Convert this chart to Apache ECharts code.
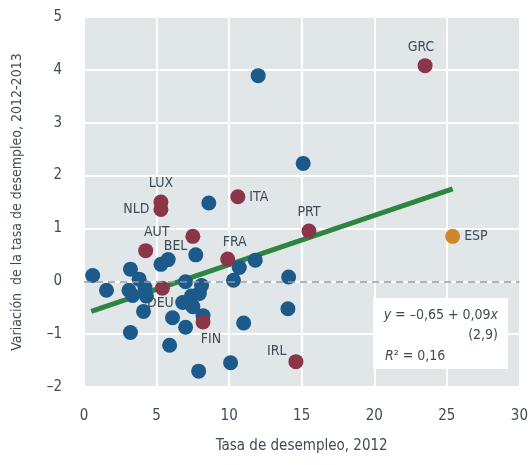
<!DOCTYPE html>
<html lang="es">
<head>
  <meta charset="UTF-8">
  <title>Tasa de desempleo</title>
  <script src="https://cdn.jsdelivr.net/npm/echarts@6/dist/echarts.min.js"></script>
  <style>
    html, body { margin: 0; padding: 0; background: #fff; }
    #chart { width: 531px; height: 465px; }
  </style>
</head>
<body>
  <div id="chart"></div>
  <script>
    // paises sin etiqueta (azul)
    var blueX = [0.6, 1.55, 3.2, 3.8, 3.1, 3.35, 4.2, 4.3, 4.1, 3.2, 5.3, 5.8, 7.7, 8.6, 7.0, 8.1, 7.95, 7.4, 6.8, 7.5, 8.2, 6.1, 7.0, 5.9, 7.9, 10.1, 11.0, 10.3, 10.7, 11.8, 14.1, 14.05, 12.0, 15.1];
    var blueY = [0.11, -0.17, 0.23, 0.04, -0.17, -0.27, -0.12, -0.28, -0.57, -0.97, 0.32, 0.41, 0.5, 1.48, -0.01, -0.08, -0.23, -0.28, -0.4, -0.48, -0.65, -0.69, -0.87, -1.21, -1.7, -1.54, -0.79, 0.02, 0.26, 0.4, 0.08, -0.52, 3.89, 2.23];

    // paises con etiqueta (rojo)
    var redNames = ['GRC', 'ITA', 'PRT', 'LUX', 'NLD', 'AUT', 'BEL', 'FRA', 'DEU', 'FIN', 'IRL'];
    var redX = [23.5, 10.6, 15.5, 5.3, 5.3, 4.25, 7.5, 9.9, 5.4, 8.2, 14.6];
    var redY = [4.08, 1.6, 0.95, 1.5, 1.36, 0.58, 0.85, 0.42, -0.13, -0.77, -1.52];

    var espX = 25.4, espY = 0.85;

    // recta de regresion (extremos)
    var fitX = [0.5, 25.4];
    var fitY = [-0.57, 1.75];

    var xTicks = [0, 30, 5];
    var yTicks = [-2, 5, 1];

    var font = '"DejaVu Sans Condensed", "Liberation Sans Narrow", sans-serif';
    var textColor = '#3f4b55';

    // posicion de cada etiqueta
    var labelPos = {
      GRC: { position: 'top', offset: [-4, 0] },
      ITA: { position: 'right', offset: [0, 1] },
      PRT: { position: 'top', offset: [0, 0] },
      LUX: { position: 'top', offset: [0, 0] },
      NLD: { position: 'left', offset: [0, 0] },
      AUT: { position: 'top', offset: [11, 0] },
      BEL: { position: 'left', offset: [6, 10] },
      FRA: { position: 'top', offset: [7, 2] },
      DEU: { position: 'bottom', offset: [-2, -3] },
      FIN: { position: 'bottom', offset: [8, -1] },
      IRL: { position: 'left', offset: [2, -10] }
    };

    var blueData = blueX.map(function (x, i) { return [x, blueY[i]]; });
    var redData = redNames.map(function (n, i) {
      return {
        value: [redX[i], redY[i]],
        name: n,
        label: labelPos[n]
      };
    });
    var fitData = fitX.map(function (x, i) { return [x, fitY[i]]; });

    var chart = echarts.init(document.getElementById('chart'));

    var option = {
      animation: false,
      textStyle: { fontFamily: font },
      grid: {
        left: 84, right: 9, top: 17, bottom: 78,
        show: true, backgroundColor: '#e1e6e9', borderWidth: 0
      },
      xAxis: {
        type: 'value',
        min: xTicks[0], max: xTicks[1], interval: xTicks[2],
        name: 'Tasa de desempleo, 2012',
        nameLocation: 'middle',
        nameGap: 52,
        nameTextStyle: { color: textColor, fontSize: 15, fontFamily: font },
        axisLine: { show: false },
        axisTick: { show: false },
        axisLabel: { color: textColor, fontSize: 15, margin: 22, fontFamily: font },
        splitLine: { lineStyle: { color: '#ffffff', width: 2 } }
      },
      yAxis: {
        type: 'value',
        min: yTicks[0], max: yTicks[1], interval: yTicks[2],
        name: 'Variación  de la tasa de desempleo, 2012-2013',
        nameLocation: 'middle',
        nameGap: 60,
        nameTextStyle: { color: textColor, fontSize: 14, fontFamily: font },
        axisLine: { show: false },
        axisTick: { show: false },
        axisLabel: {
          color: textColor, fontSize: 15, margin: 22, fontFamily: font,
          formatter: function (v) { return v < 0 ? '\u2013' + Math.abs(v) : String(v); }
        },
        splitLine: { lineStyle: { color: '#ffffff', width: 2 } }
      },
      series: [
        {
          type: 'line',
          data: fitData,
          showSymbol: false,
          lineStyle: { color: '#2e8540', width: 5 },
          z: 2,
          markLine: {
            silent: true,
            symbol: 'none',
            label: { show: false },
            lineStyle: { color: '#8e9ba6', type: [7, 5], width: 1.5 },
            data: [{ yAxis: 0 }]
          }
        },
        {
          type: 'scatter',
          data: blueData,
          symbolSize: 15,
          itemStyle: { color: '#1b5a8a', opacity: 1 },
          z: 3
        },
        {
          type: 'scatter',
          data: redData,
          symbolSize: 15,
          itemStyle: { color: '#8b3548', opacity: 1 },
          label: {
            show: true,
            formatter: '{b}',
            color: textColor,
            fontSize: 14,
            fontFamily: font,
            distance: 4
          },
          z: 4
        },
        {
          type: 'scatter',
          data: [{ value: [espX, espY], name: 'ESP' }],
          symbolSize: 15,
          itemStyle: { color: '#d08527', opacity: 1 },
          label: {
            show: true, position: 'right', formatter: '{b}',
            color: textColor, fontSize: 14, fontFamily: font, distance: 4
          },
          z: 4
        }
      ],
      graphic: [
        {
          type: 'group',
          left: 373, top: 298,
          z: 100,
          children: [
            { type: 'rect', z: 100, shape: { x: 0, y: 0, width: 135, height: 71 }, style: { fill: '#ffffff' } },
            {
              type: 'text', z: 101, x: 125, y: 17,
              style: {
                text: '{i|y} = \u20130,65 + 0,09{i|x}',
                align: 'right', verticalAlign: 'middle',
                fill: textColor, font: '14px ' + font,
                rich: { i: { fontStyle: 'italic', fontSize: 14, fontFamily: font, fill: textColor } }
              }
            },
            {
              type: 'text', z: 101, x: 125, y: 37,
              style: { text: '(2,9)', align: 'right', verticalAlign: 'middle', fill: textColor, font: '14px ' + font }
            },
            {
              type: 'text', z: 101, x: 12, y: 58,
              style: {
                text: '{i|R}² = 0,16',
                align: 'left', verticalAlign: 'middle',
                fill: textColor, font: '14px ' + font,
                rich: { i: { fontStyle: 'italic', fontSize: 14, fontFamily: font, fill: textColor } }
              }
            }
          ]
        }
      ]
    };

    chart.setOption(option);
  </script>
</body>
</html>
